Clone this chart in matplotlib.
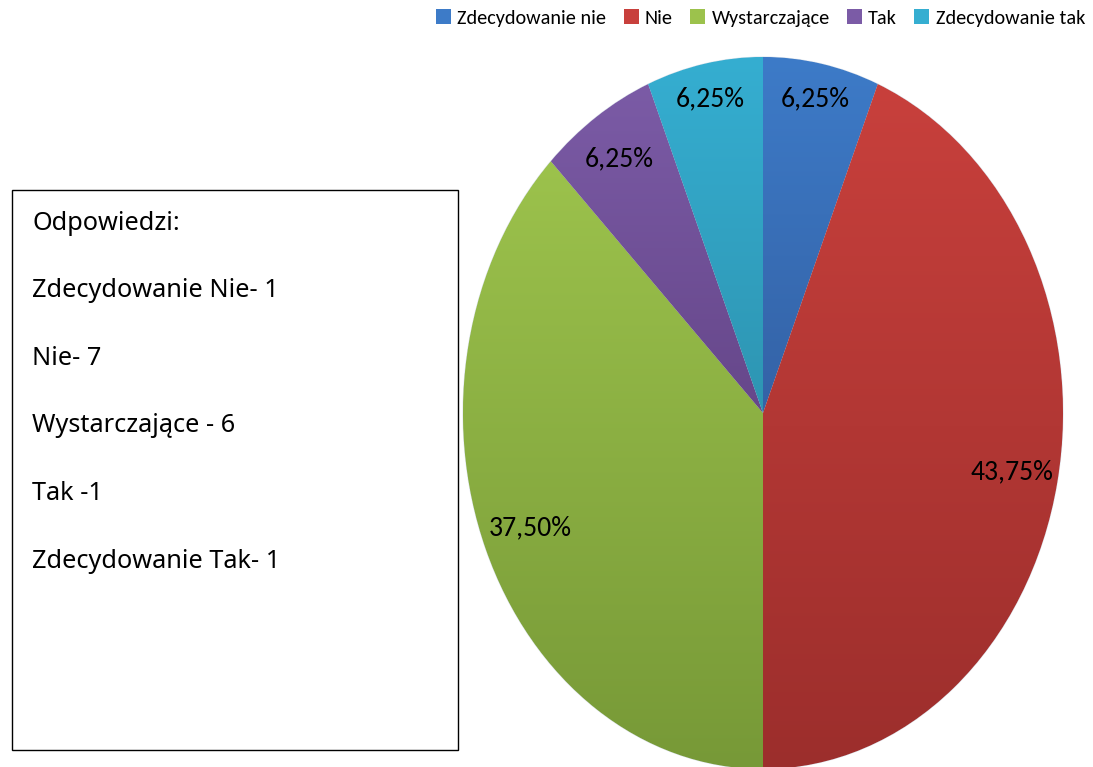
import numpy as np
import matplotlib
matplotlib.use("Agg")
import matplotlib.pyplot as plt
from matplotlib import font_manager as fm
from matplotlib.patches import Rectangle
from matplotlib.colors import to_rgb

categories = ["Zdecydowanie nie", "Nie", "Wystarczające", "Tak", "Zdecydowanie tak"]
counts = [1, 7, 6, 1, 1]
box_lines = ["Odpowiedzi:", "Zdecydowanie Nie- 1", "Nie- 7", "Wystarczające - 6",
             "Tak -1", "Zdecydowanie Tak- 1"]
top_colors = ["#3d7bc8", "#c8403c", "#9cc24c", "#7b5ba6", "#35aed1"]
bottom_colors = ["#3462a6", "#9c2e2c", "#779937", "#66478a", "#2e95b2"]
label_dist = [0.9, 0.845, 0.84, 0.86, 0.9]

avail = {f.name for f in fm.fontManager.ttflist}
def pick(*names):
    for n in names:
        if n in avail:
            return n
    return "DejaVu Sans"
narrow = pick("Carlito", "Liberation Sans Narrow", "Lato")
legend_font = pick("Carlito", "Lato")
box_font = pick("Noto Sans", "Open Sans")

W, H = 1093, 767
fig = plt.figure(figsize=(W / 100, H / 100), dpi=100)

# pie axes (ellipse)
cx, cy, rx, ry = 763, 413, 300, 356
pax = fig.add_axes([(cx - rx) / W, (H - cy - ry) / H, 2 * rx / W, 2 * ry / H])
wedges, texts, autotexts = pax.pie(
    counts, startangle=90, counterclock=False, radius=1,
    autopct=lambda p: f"{p:.2f}%".replace(".", ","), pctdistance=0.87,
    wedgeprops=dict(linewidth=0.8, edgecolor="#dfe6ee"),
    textprops=dict(fontsize=20, family=narrow, color="black"))
pax.set_aspect("auto")
pax.axis("off")

for w, tc, bc, at, d in zip(wedges, top_colors, bottom_colors, autotexts, label_dist):
    ext = w.get_path().get_extents()
    t = np.array(to_rgb(tc)); b = np.array(to_rgb(bc))
    n = 256
    f = np.linspace(0, 1, n)[:, None]
    grad = (t[None, :] * (1 - f) + b[None, :] * f)[:, None, :]
    im = pax.imshow(grad, extent=[ext.x0, ext.x1, ext.y0, ext.y1], origin="upper",
                    aspect="auto", zorder=w.get_zorder() + 0.1, interpolation="bilinear")
    im.set_clip_path(w)
    w.set_facecolor(bc)
    mid = np.deg2rad((w.theta1 + w.theta2) / 2)
    at.set_position((d * np.cos(mid), d * np.sin(mid)))
    at.set_zorder(5)
pax.set_aspect("auto")
pax.set_xlim(-1, 1)
pax.set_ylim(-1, 1)

# overlay axes in pixel coords
ov = fig.add_axes([0, 0, 1, 1])
ov.set_xlim(0, W)
ov.set_ylim(H, 0)
ov.axis("off")
ov.add_patch(Rectangle((12, 190), 446, 560, fill=False, edgecolor="black", linewidth=1.0))
y0, dy = 223, 67.6
for i, s in enumerate(box_lines):
    ov.text(32, y0 + i * dy, s, fontsize=18.2, family=box_font, va="center", ha="left")

# legend
handles = [Rectangle((0, 0), 1, 1, facecolor=c, edgecolor="none") for c in top_colors]
fig.legend(handles, categories, loc="upper right", bbox_to_anchor=(1089 / W, 1 - 5 / H),
           ncol=5, frameon=False, prop=dict(family=legend_font, size=14.6),
           handlelength=0.75, handleheight=0.75, handletextpad=0.3, columnspacing=0.85,
           borderaxespad=0, borderpad=0.2)

fig.savefig("out.png", dpi=100)
